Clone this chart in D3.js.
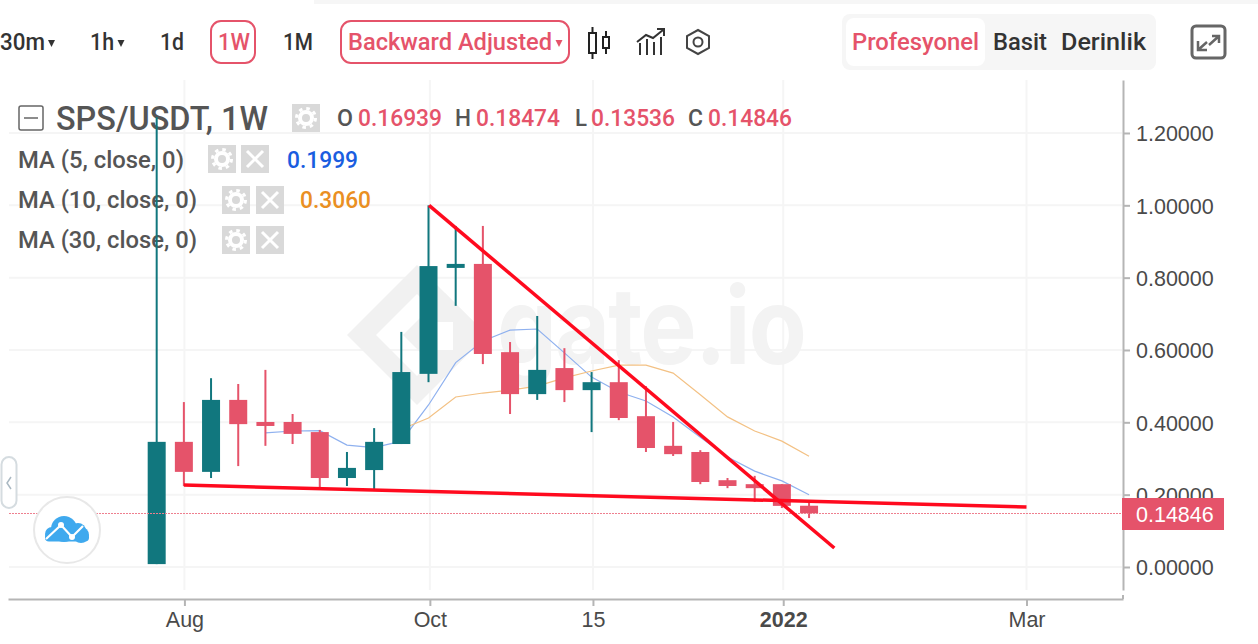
<!DOCTYPE html>
<html>
<head>
<meta charset="utf-8">
<script src="https://cdn.jsdelivr.net/npm/d3@7"></script>
<style>
  html, body { margin: 0; padding: 0; background: #fff; overflow: hidden; }
  svg { display: block; }
  .ui { font-family: Roboto, sans-serif; }
  .tick text { font-family: "Liberation Sans", sans-serif; font-size: 21.5px; fill: #4a4a4a; }
</style>
</head>
<body>
<div id="svg-container"></div>
<script>
////////////////////////////////////////////////////////////////////
////////////////////////////  Data  ////////////////////////////////
// weekly candles, x is the week number (0 = first candle)
const opens  = [0.008, 0.346, 0.263, 0.462, 0.401, 0.401, 0.373, 0.246, 0.268, 0.340, 0.534, 0.827, 0.838, 0.594, 0.478, 0.550, 0.489, 0.511, 0.417, 0.335, 0.318, 0.240, 0.229, 0.229, 0.16939];
const highs  = [1.244, 0.456, 0.522, 0.506, 0.545, 0.423, 0.379, 0.318, 0.384, 0.650, 1.000, 0.943, 0.943, 0.622, 0.694, 0.605, 0.539, 0.572, 0.500, 0.401, 0.323, 0.246, 0.252, 0.229, 0.18474];
const lows   = [0.008, 0.224, 0.246, 0.279, 0.335, 0.340, 0.218, 0.224, 0.213, 0.340, 0.511, 0.722, 0.561, 0.423, 0.462, 0.456, 0.373, 0.406, 0.318, 0.307, 0.229, 0.218, 0.180, 0.163, 0.13536];
const closes = [0.346, 0.263, 0.462, 0.395, 0.390, 0.368, 0.246, 0.274, 0.346, 0.539, 0.832, 0.838, 0.589, 0.478, 0.545, 0.489, 0.511, 0.412, 0.329, 0.312, 0.235, 0.224, 0.224, 0.169, 0.14846];

// moving averages, with the week they start from
const ma5Start = 4;
const ma5 = [0.371, 0.376, 0.377, 0.337, 0.330, 0.348, 0.448, 0.565, 0.625, 0.655, 0.658, 0.592, 0.525, 0.484, 0.459, 0.415, 0.359, 0.304, 0.265, 0.238, 0.1999];
const ma10Start = 9;
const ma10 = [0.381, 0.412, 0.470, 0.481, 0.489, 0.500, 0.523, 0.542, 0.558, 0.558, 0.536, 0.476, 0.415, 0.376, 0.348, 0.3060];

// hand drawn trend lines [week, price]
const trendDown = [[10.02, 1.0], [24.93, 0.0525]];
const trendFlat = [[1.0, 0.2265], [32.0, 0.166]];

const lastPrice = 0.14846;
const yTicks = [0, 0.2, 0.4, 0.6, 0.8, 1.0, 1.2];
const xTicks = [1.02, 10.05, 16.05, 23.05, 32];
const xTickLabels = ["Aug", "Oct", "15", "2022", "Mar"];

const RED = "#e5536a";
const TEAL = "#11777e";

////////////////////////////////////////////////////////////////////
////////////////////////////  Init  ////////////////////////////////
const width = 1258, height = 644;
const svg = d3.select("#svg-container").append("svg")
  .attr("width", width).attr("height", height);

const xScale = d3.scaleLinear().domain([-5.47, 35.55]).range([8, 1123]);
const yScale = d3.scaleLinear().domain([-0.0636, 1.3465]).range([590, 80]);

const line = d3.line().x((d) => xScale(d[0])).y((d) => yScale(d[1]));

// text squeezed to the measured width, the original font is a narrow DIN
function label(g, x, y, txt, w, size, color, weight) {
  return g.append("text").attr("class", "ui")
    .attr("x", x).attr("y", y)
    .attr("textLength", w).attr("lengthAdjust", "spacingAndGlyphs")
    .attr("font-size", size).attr("fill", color)
    .attr("font-weight", weight || 500)
    .text(txt);
}

////////////////////////////////////////////////////////////////////
////////////////////////////  Grid  ////////////////////////////////
svg.append("g").selectAll("line").data(yTicks).join("line")
  .attr("x1", 9).attr("x2", 1122)
  .attr("y1", (d) => yScale(d)).attr("y2", (d) => yScale(d))
  .attr("stroke", "#f5f5f5").attr("stroke-width", 2);

svg.append("g").selectAll("line").data(xTicks).join("line")
  .attr("x1", (d) => xScale(d)).attr("x2", (d) => xScale(d))
  .attr("y1", 80).attr("y2", 590)
  .attr("stroke", "#f5f5f5").attr("stroke-width", 2);

////////////////////////////////////////////////////////////////////
////////////////////////////  Watermark  ///////////////////////////
const mark = svg.append("g");
mark.append("path")
  .attr("d", "M417 265 L487 335 L417 405 L347 335 Z M417 294 L376 335 L417 376 L458 335 Z")
  .attr("fill-rule", "evenodd").attr("fill", "#f1f1f1");
mark.append("path")
  .attr("d", "M445 293 L487 335 L445 377 L403 335 Z")
  .attr("fill", "#f1f1f1");
mark.append("rect").attr("x", 425).attr("y", 322).attr("width", 28).attr("height", 28).attr("fill", "#fff");
mark.append("text").attr("x", 497).attr("y", 364)
  .attr("font-family", "Inter, sans-serif").attr("font-weight", 700)
  .attr("font-size", 106).attr("letter-spacing", -2)
  .attr("textLength", 308).attr("lengthAdjust", "spacingAndGlyphs")
  .attr("fill", "#f3f3f3").text("gate.io");

////////////////////////////////////////////////////////////////////
////////////////////////////  Toolbar  /////////////////////////////
const bar = svg.append("g");
bar.append("rect").attr("x", 314).attr("y", 0).attr("width", 944).attr("height", 4).attr("fill", "#f6f6f6");

label(bar, 0, 50, "30m", 45, 24, "#333");
label(bar, 90, 50, "1h", 24, 24, "#333");
label(bar, 160, 50, "1d", 24, 24, "#333");
label(bar, 218, 50, "1W", 32, 24, RED);
label(bar, 283, 50, "1M", 30, 24, "#333");
label(bar, 348, 50, "Backward Adjusted", 204, 24, RED);

bar.append("rect").attr("x", 211).attr("y", 21).attr("width", 44).attr("height", 42).attr("rx", 10)
  .attr("fill", "none").attr("stroke", RED).attr("stroke-width", 2);
bar.append("rect").attr("x", 341).attr("y", 21).attr("width", 228).attr("height", 42).attr("rx", 10)
  .attr("fill", "none").attr("stroke", RED).attr("stroke-width", 2);

// little dropdown carets
[[51.5, "#333"], [121, "#333"], [559, RED]].forEach(([cx, c]) => {
  bar.append("path").attr("d", `M${cx - 3.5} 40 L${cx + 3.5} 40 L${cx} 47 Z`).attr("fill", c);
});

// candle icon
const ic = bar.append("g").attr("fill", "none").attr("stroke", "#222").attr("stroke-width", 2);
ic.append("rect").attr("x", 589).attr("y", 33).attr("width", 7).attr("height", 20);
ic.append("path").attr("d", "M592.5 27 V33 M592.5 53 V59");
ic.append("rect").attr("x", 603).attr("y", 37).attr("width", 6).attr("height", 11);
ic.append("path").attr("d", "M606 31 V37 M606 48 V54");

// indicator icon
const ic2 = bar.append("g").attr("fill", "none").attr("stroke", "#333").attr("stroke-width", 2);
ic2.append("path").attr("d", "M640 55 V43 M647 55 V39 M654 55 V42 M661 55 V37");
ic2.append("path").attr("d", "M637 42 L646 35 L653 38 L663 30 M657 29 H664 V36");

// settings hexagon
const ic3 = bar.append("g").attr("fill", "none").attr("stroke", "#444").attr("stroke-width", 2);
ic3.append("path").attr("d", "M698 30 L709 36 V48 L698 54 L687 48 V36 Z");
ic3.append("circle").attr("cx", 698).attr("cy", 42).attr("r", 4.5);

// mode switch
bar.append("rect").attr("x", 842).attr("y", 14).attr("width", 314).attr("height", 56).attr("rx", 8).attr("fill", "#f6f6f6");
bar.append("rect").attr("x", 846).attr("y", 18).attr("width", 139).attr("height", 48).attr("rx", 8).attr("fill", "#fff");
label(bar, 852, 50, "Profesyonel", 127, 24, RED);
label(bar, 993, 50, "Basit", 54, 24, "#333");
label(bar, 1061, 50, "Derinlik", 85, 24, "#333");

// fullscreen icon
const ic4 = bar.append("g").attr("fill", "none").attr("stroke", "#666").attr("stroke-width", 3);
ic4.append("rect").attr("x", 1192).attr("y", 26).attr("width", 33).attr("height", 32).attr("rx", 4);
ic4.append("path").attr("stroke-width", 2.5).attr("d", "M1212 36 H1219 V43 M1219 36 L1209 45 M1198 41 V50 H1207 M1198 50 L1207 42");

////////////////////////////////////////////////////////////////////
////////////////////////////  Legend  //////////////////////////////
const legend = svg.append("g");
legend.append("rect").attr("x", 19).attr("y", 106).attr("width", 24).attr("height", 24).attr("rx", 2)
  .attr("fill", "none").attr("stroke", "#666").attr("stroke-width", 1.5);
legend.append("path").attr("d", "M24 118 H38").attr("stroke", "#666").attr("stroke-width", 1.5);
label(legend, 56, 130, "SPS/USDT, 1W", 212, 33, "#555");

function gear(x, y) {
  const g = legend.append("g");
  g.append("rect").attr("x", x).attr("y", y).attr("width", 28).attr("height", 28).attr("fill", "#d9d9d9");
  g.append("circle").attr("cx", x + 14).attr("cy", y + 14).attr("r", 6)
    .attr("fill", "none").attr("stroke", "#fff").attr("stroke-width", 4);
  g.append("circle").attr("cx", x + 14).attr("cy", y + 14).attr("r", 9.5)
    .attr("fill", "none").attr("stroke", "#fff").attr("stroke-width", 3).attr("stroke-dasharray", "3.5 3.96");
}
function cross(x, y) {
  legend.append("rect").attr("x", x).attr("y", y).attr("width", 28).attr("height", 28).attr("fill", "#d9d9d9");
  legend.append("path").attr("d", `M${x + 6} ${y + 6} L${x + 22} ${y + 22} M${x + 22} ${y + 6} L${x + 6} ${y + 22}`)
    .attr("stroke", "#fff").attr("stroke-width", 3);
}

gear(292, 104);
[["O", 337, 16], ["H", 455, 16], ["L", 575, 12], ["C", 688, 15]].forEach(([t, x, w]) => {
  label(legend, x, 126, t, w, 24, "#555");
});
[["0.16939", 358], ["0.18474", 476], ["0.13536", 591], ["0.14846", 708]].forEach(([t, x]) => {
  label(legend, x, 126, t, 84, 24, RED);
});

label(legend, 18, 168, "MA (5, close, 0)", 166, 24, "#555");
gear(208, 145); cross(241, 145);
label(legend, 287, 168, "0.1999", 71, 24, "#1a5de0");

label(legend, 18, 208, "MA (10, close, 0)", 179, 24, "#555");
gear(222, 186); cross(256, 186);
label(legend, 300, 208, "0.3060", 71, 24, "#ea8f22");

label(legend, 18, 248, "MA (30, close, 0)", 179, 24, "#555");
gear(222, 226); cross(256, 226);

////////////////////////////////////////////////////////////////////
////////////////////////////  Moving averages  /////////////////////
svg.append("path")
  .datum(ma5.map((d, i) => [ma5Start + i, d]))
  .attr("d", line).attr("fill", "none")
  .attr("stroke", "#8fb1ef").attr("stroke-width", 1.2);
svg.append("path")
  .datum(ma10.map((d, i) => [ma10Start + i, d]))
  .attr("d", line).attr("fill", "none")
  .attr("stroke", "#f3c184").attr("stroke-width", 1.2);

////////////////////////////////////////////////////////////////////
////////////////////////////  Candles  /////////////////////////////
const candle = svg.append("g").selectAll("g").data(opens).join("g")
  .attr("fill", (d, i) => (closes[i] >= d ? TEAL : RED));

candle.append("rect")
  .attr("x", (d, i) => xScale(i) - 1)
  .attr("width", 2)
  .attr("y", (d, i) => yScale(highs[i]))
  .attr("height", (d, i) => yScale(lows[i]) - yScale(highs[i]));

candle.append("rect")
  .attr("x", (d, i) => xScale(i) - 9)
  .attr("width", 18)
  .attr("y", (d, i) => yScale(Math.max(d, closes[i])))
  .attr("height", (d, i) => Math.max(4, Math.abs(yScale(d) - yScale(closes[i]))));

// last price line
svg.append("line")
  .attr("x1", 9).attr("x2", 1122)
  .attr("y1", Math.round(yScale(lastPrice)) + 0.5).attr("y2", Math.round(yScale(lastPrice)) + 0.5)
  .attr("stroke", "#ee7f8f").attr("stroke-width", 1)
  .attr("stroke-dasharray", "2 1");

////////////////////////////////////////////////////////////////////
////////////////////////////  Trend lines  /////////////////////////
[trendDown, trendFlat].forEach((t) => {
  svg.append("path").datum(t).attr("d", line)
    .attr("fill", "none").attr("stroke", "#ff0a1e").attr("stroke-width", 3.5);
});

////////////////////////////////////////////////////////////////////
////////////////////////////  Axes  ////////////////////////////////
const xAxis = d3.axisBottom(xScale)
  .tickValues(xTicks)
  .tickFormat((d, i) => xTickLabels[i])
  .tickSize(7).tickPadding(6).tickSizeOuter(0);
const gx = svg.append("g").attr("transform", "translate(0,599)").call(xAxis);
gx.select(".domain").attr("stroke", "#b5b5b5").attr("stroke-width", 2);
gx.selectAll(".tick line").attr("stroke", "#b5b5b5").attr("stroke-width", 2);
gx.selectAll(".tick text")
  .style("font-weight", (d, i) => (xTickLabels[i] === "2022" ? 700 : 400));
gx.append("line").attr("x1", 1123).attr("x2", 1123).attr("y1", -4).attr("y2", 0)
  .attr("stroke", "#b5b5b5").attr("stroke-width", 2);

const yAxis = d3.axisRight(yScale)
  .tickValues(yTicks)
  .tickFormat(d3.format(".5f"))
  .tickSize(7).tickPadding(6).tickSizeOuter(0);
const gy = svg.append("g").attr("transform", "translate(1123,0)").call(yAxis);
gy.select(".domain").attr("stroke", "#b5b5b5").attr("stroke-width", 2);
gy.selectAll(".tick line").attr("stroke", "#b5b5b5").attr("stroke-width", 2);
gy.selectAll(".tick text").attr("dy", "0.37em");

// price tag
const tag = svg.append("g");
tag.append("rect").attr("x", 1122).attr("y", 498).attr("width", 102).attr("height", 32).attr("fill", RED);
tag.append("text").attr("x", 1136).attr("y", yScale(lastPrice) + 1)
  .attr("dy", "0.36em")
  .attr("font-family", "Liberation Sans, sans-serif").attr("font-size", 21.5)
  .attr("fill", "#fff").text(d3.format(".5f")(lastPrice));

////////////////////////////////////////////////////////////////////
////////////////////////////  Side widgets  ////////////////////////
const side = svg.append("g");
side.append("rect").attr("x", 1.5).attr("y", 457).attr("width", 15).attr("height", 51).attr("rx", 7.5)
  .attr("fill", "#fff").attr("stroke", "#d5dce0").attr("stroke-width", 2);
side.append("path").attr("d", "M11 477 L7 483 L11 489").attr("fill", "none").attr("stroke", "#a9b8c2").attr("stroke-width", 1.5);

side.append("circle").attr("cx", 67).attr("cy", 530).attr("r", 33)
  .attr("fill", "#fff").attr("stroke", "#e8e8e8").attr("stroke-width", 2);
const cloud = side.append("g").attr("fill", "#3fa9ee");
cloud.append("circle").attr("cx", 64).attr("cy", 529).attr("r", 13);
cloud.append("circle").attr("cx", 78).attr("cy", 531).attr("r", 8);
cloud.append("circle").attr("cx", 81).attr("cy", 535).attr("r", 8);
cloud.append("circle").attr("cx", 52).attr("cy", 534).attr("r", 7);
cloud.append("rect").attr("x", 45).attr("y", 533).attr("width", 44).attr("height", 8.5).attr("rx", 4);
side.append("path").attr("d", "M46 539 L61 525 L72 537 L83 526")
  .attr("fill", "none").attr("stroke", "#fff").attr("stroke-width", 2.2);
side.append("circle").attr("cx", 61).attr("cy", 525).attr("r", 3).attr("fill", "#fff");
side.append("circle").attr("cx", 72).attr("cy", 537).attr("r", 3).attr("fill", "#fff");
</script>
</body>
</html>
